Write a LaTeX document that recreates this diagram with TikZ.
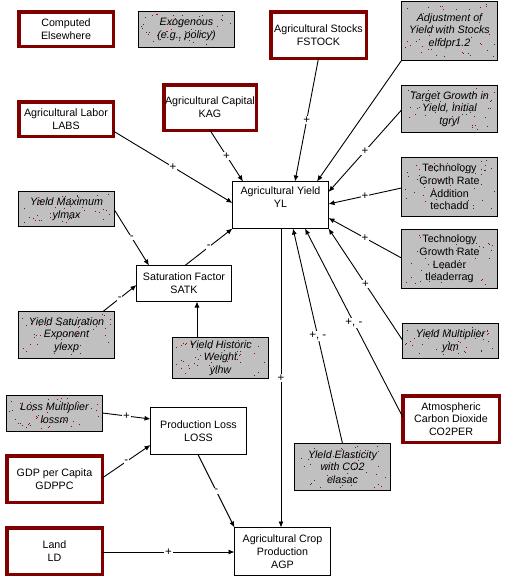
\documentclass[tikz,border=0pt]{standalone}
\usepackage{fontspec}
\setmainfont{Liberation Sans}
\usetikzlibrary{arrows.meta,calc}
\definecolor{boxred}{HTML}{800000}
\definecolor{boxgray}{HTML}{C0C0C0}
\definecolor{dotred}{HTML}{B00000}
\tikzset{
  txt/.style={font=\fontsize{10.7}{12.7}\selectfont, align=center, inner sep=0pt, outer sep=0pt},
  comp/.style={txt, draw=boxred, line width=3.5pt, fill=white},
  exo/.style={txt, draw=black, line width=1pt, font=\fontsize{10.7}{12.7}\selectfont\itshape},
  exoup/.style={txt, draw=black, line width=1pt},
  aux/.style={txt, draw=black, line width=1pt, fill=white},
  link/.style={line width=0.9pt, -{Latex[length=6pt,width=5pt]}},
  sgn/.style={font=\fontsize{11.5}{13}\selectfont, fill=white, inner sep=0.8pt, pos=0.5},
}
\newcommand\speckle[4]{%
  \foreach \i in {1,...,45}{%
    \pgfmathsetmacro\px{#1-#3/2+3+rnd*(#3-7)}%
    \pgfmathsetmacro\py{#2-#4/2+3+rnd*(#4-7)}%
    \pgfmathtruncatemacro\k{rnd*10}%
    \ifnum\k<6 \fill[dotred] (\px,\py) rectangle ++(1,1);\else\fill[black!80] (\px,\py) rectangle ++(1,1);\fi
  }}
% style, name, cx, cy, w, h, text
\newcommand\gbox[7]{%
  \fill[boxgray] (#3-#5/2,#4-#6/2) rectangle (#3+#5/2,#4+#6/2);
  \speckle{#3}{#4}{#5}{#6}
  \node[#1, minimum width={#5*1pt-1pt}, minimum height={#6*1pt-1pt}] (#2) at (#3,#4) {#7};}
\begin{document}
\begin{tikzpicture}[x=1pt,y=-1pt]
\pgfmathsetseed{4242}
\fill[white] (0,0) rectangle (504,581);
\useasboundingbox (0,0) rectangle (504,581);

% computed elsewhere (thick red)
\node[comp, minimum width=94.5pt, minimum height=34.5pt] (ce) at (66,29) {Computed\\Elsewhere};
\node[comp, minimum width=95.5pt, minimum height=46.5pt] (fstock) at (318.5,35) {Agricultural Stocks\\FSTOCK};
\node[comp, minimum width=94.5pt, minimum height=34.5pt] (labs) at (66,119) {Agricultural Labor\\LABS};
\node[comp, minimum width=92.5pt, minimum height=45.5pt] (kag) at (210,107.5) {Agricultural Capital\\KAG};
\node[comp, minimum width=96.5pt, minimum height=46.5pt] (co2) at (451,419) {Atmospheric\\Carbon Dioxide\\CO2PER};
\node[comp, minimum width=95.5pt, minimum height=46.5pt] (gdp) at (54.5,479) {GDP per Capita\\GDPPC};
\node[comp, minimum width=95.5pt, minimum height=46.5pt] (ld) at (54.5,551) {Land\\LD};

% exogenous (grey)
\gbox{exo}{ex}{186.5}{29.5}{97}{37}{Exogenous\\(e.g., policy)}
\gbox{exo}{adj}{449.5}{31}{97}{60}{Adjustment of\\Yield with Stocks\\elfdpr1.2}
\gbox{exo}{tgr}{449.5}{109}{97}{48}{Target Growth in\\Yield, Initial\\tgryl}
\gbox{exoup}{techadd}{449.5}{187}{97}{60}{Technology\\Growth Rate\\Addition\\techadd}
\gbox{exoup}{tlead}{449.5}{259}{97}{60}{Technology\\Growth Rate\\Leader\\tleaderrag}
\gbox{exo}{ylmax}{66.5}{209}{97}{36}{Yield Maximum\\ylmax}
\gbox{exo}{ylexp}{66.5}{335}{97}{48}{Yield Saturation\\Exponent\\ylexp}
\gbox{exo}{ylhw}{220.5}{358}{97}{42}{Yield Historic\\Weight\\ylhw}
\gbox{exo}{ylm}{450.5}{341}{97}{36}{Yield Multiplier\\ylm}
\gbox{exo}{lossm}{54.5}{413.5}{97}{37}{Loss Multiplier\\lossm}
\gbox{exo}{elas}{342.5}{467}{97}{48}{Yield Elasticity\\with CO2\\elasac}

% auxiliaries (white)
\node[aux, minimum width=96pt, minimum height=47pt, text depth=16pt] (yl) at (280.5,205) {Agricultural Yield\\YL};
\node[aux, minimum width=95pt, minimum height=36pt] (satk) at (184,283.5) {Saturation Factor\\SATK};
\node[aux, minimum width=96pt, minimum height=47pt] (loss) at (198.5,431) {Production Loss\\LOSS};
\node[aux, minimum width=96pt, minimum height=48pt] (agp) at (282.5,551.5) {Agricultural Crop\\Production\\AGP};

% connectors
\draw[link] (labs.east |- 0,131) -- node[sgn]{+} (yl.west |- 0,203);
\draw[link] (kag.south) -- node[sgn]{+} (yl.north -| 243,0);
\draw[link] (fstock.south) -- node[sgn]{+} (yl.north -| 295,0);
\draw[link] (adj.south west) -- (yl.north -| 317,0);
\draw[link] (tgr.west |- 0,110) -- node[sgn]{+} (yl.east |- 0,192);
\draw[link] (techadd.west |- 0,188) -- node[sgn]{+} (yl.east |- 0,204);
\draw[link] (tlead.west |- 0,258) -- node[sgn]{+} (yl.east |- 0,218);
\draw[link] (ylm.west |- 0,340) -- node[sgn]{+} (yl.south east);
\draw[link] (co2.west |- 0,417) -- node[sgn]{+, -} (yl.south -| 305,0);
\draw[link] (elas.north) -- node[sgn]{+, -} (yl.south -| 293,0);
\draw[link] (yl.south -| 281,0) -- node[sgn]{+} (agp.north -| 281,0);
\draw[link] (ylmax.east |- 0,210) -- node[sgn]{-} (satk.north -| 149,0);
\draw[link] (satk.north -| 185,0) -- node[sgn]{-} (yl.south west);
\draw[link] (ylexp.north -| 103,0) -- node[sgn]{-} (satk.west |- 0,285);
\draw[link] (ylhw.north -| 197,0) -- (satk.south -| 197,0);
\draw[link] (lossm.east |- 0,413) -- node[sgn]{+} (loss.west |- 0,419);
\draw[link] (gdp.east |- 0,478) -- node[sgn]{-} (loss.west |- 0,445);
\draw[link] (loss.south -| 198,0) -- node[sgn]{-} (agp.north west);
\draw[link] (ld.east |- 0,552) -- node[sgn]{+} (agp.west |- 0,552);
\end{tikzpicture}
\end{document}
